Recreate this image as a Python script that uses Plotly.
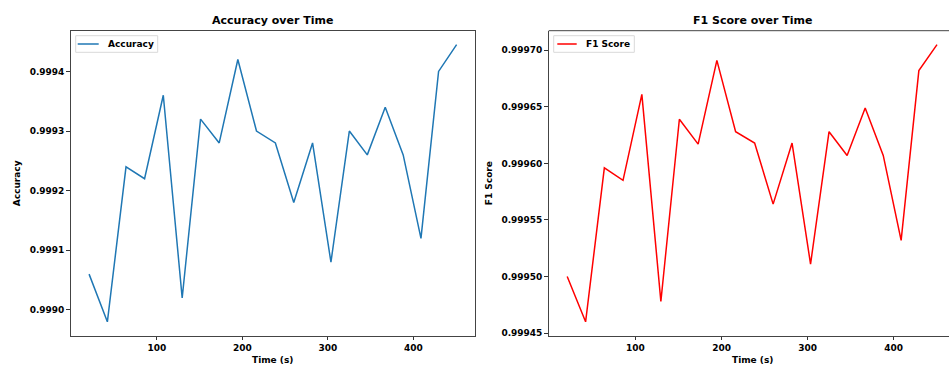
import plotly.graph_objects as go

time_s = [20.6, 42.0, 63.8, 85.5, 107.4, 129.5, 151.0, 172.8, 194.6, 216.4, 238.5,
          260.0, 282.0, 303.5, 325.0, 346.0, 367.0, 388.0, 408.8, 429.4, 450.5]
accuracy = [0.99906, 0.99898, 0.99924, 0.99922, 0.99936, 0.99902, 0.99932, 0.99928,
            0.99942, 0.99930, 0.99928, 0.99918, 0.99928, 0.99908, 0.99930, 0.99926,
            0.99934, 0.99926, 0.99912, 0.99940, 0.999445]
f1_score = [0.999500, 0.999460, 0.999596, 0.999585, 0.999661, 0.999478, 0.999639,
            0.999617, 0.999691, 0.999628, 0.999618, 0.999564, 0.999618, 0.999511,
            0.999628, 0.999607, 0.999649, 0.999607, 0.999532, 0.999682, 0.999705]
acc_ticks = [0.9990, 0.9991, 0.9992, 0.9993, 0.9994]
f1_ticks = [0.99945, 0.99950, 0.99955, 0.99960, 0.99965, 0.99970]
x_ticks = [100, 200, 300, 400]
series_names = ["Accuracy", "F1 Score"]
series_colors = ["#1f77b4", "red"]

W, H = 949, 365
FONT = "DejaVu Sans"

def px_x(p):
    return p / W

def px_y(p):
    return 1 - p / H

L1, R1 = 70.7, 475.0
L2, R2 = 548.7, 949.0
TOP, BOT = 30.7, 335.7

fig = go.Figure()
fig.add_trace(go.Scatter(x=time_s, y=accuracy, mode="lines", name=series_names[0],
                         line=dict(color=series_colors[0], width=1.5),
                         xaxis="x", yaxis="y", showlegend=False))
fig.add_trace(go.Scatter(x=time_s, y=f1_score, mode="lines", name=series_names[1],
                         line=dict(color=series_colors[1], width=1.5),
                         xaxis="x2", yaxis="y2", showlegend=False))

tickfont = dict(family=FONT, size=9, color="black", weight="bold")
axis_common = dict(showgrid=False, zeroline=False, ticks="outside", ticklen=3.5,
                   tickwidth=1, tickcolor="#333", tickfont=tickfont,
                   showline=True, linecolor="#444", linewidth=1, automargin=False)

# x range computed from matplotlib's 5% margin
xmin, xmax = min(time_s), max(time_s)
xpad = 0.05 * (xmax - xmin)
xr1 = [xmin - xpad, xmax + xpad]
# right axes is cut at the window edge
full_w = 955.5 - L2
xr2 = [xr1[0], xr1[0] + (xr1[1] - xr1[0]) * (R2 - L2) / full_w]

ay_min, ay_max = min(accuracy), max(accuracy)
aypad = 0.05 * (ay_max - ay_min)
fy_min, fy_max = min(f1_score), max(f1_score)
fypad = 0.05 * (fy_max - fy_min)

fig.update_layout(
    width=W, height=H,
    margin=dict(l=0, r=0, t=0, b=0),
    paper_bgcolor="white", plot_bgcolor="white",
    showlegend=False,
    xaxis=dict(domain=[px_x(L1), px_x(R1)], range=xr1, tickvals=x_ticks,
               mirror=True, anchor="y", **axis_common),
    yaxis=dict(domain=[px_y(BOT), px_y(TOP)], range=[ay_min - aypad, ay_max + aypad],
               tickvals=acc_ticks, tickformat=".4f", mirror=True, anchor="x",
               **axis_common),
    xaxis2=dict(domain=[px_x(L2), 1.0], range=xr2, tickvals=x_ticks,
                mirror=False, anchor="y2", **axis_common),
    yaxis2=dict(domain=[px_y(BOT), px_y(TOP)], range=[fy_min - fypad, fy_max + fypad],
                tickvals=f1_ticks, tickformat=".5f", mirror=False, anchor="x2",
                **axis_common),
)

# top border of the right axes (right border lies beyond the window)
fig.add_shape(type="line", xref="x2 domain", yref="y2 domain", x0=0, x1=1.02, y0=1, y1=1,
              line=dict(color="#444", width=1))

# legends (matplotlib style, upper left)
legend_boxes = [(75.7, 157.7), (553.7, 634.3)]
legend_lines = [(77.7, 98.7), (557.3, 576.7)]
legend_text_x = [105.7, 584.3]
LT, LB = 35.7, 52.3
LY = (LT + LB) / 2
for i in range(2):
    bx0, bx1 = legend_boxes[i]
    fig.add_shape(type="rect", xref="paper", yref="paper",
                  x0=px_x(bx0), x1=px_x(bx1), y0=px_y(LB), y1=px_y(LT),
                  line=dict(color="#d9d9d9", width=1), fillcolor="rgba(255,255,255,0.8)")
    lx0, lx1 = legend_lines[i]
    fig.add_shape(type="line", xref="paper", yref="paper",
                  x0=px_x(lx0), x1=px_x(lx1), y0=px_y(LY), y1=px_y(LY),
                  line=dict(color=series_colors[i], width=1.5))
    fig.add_annotation(xref="paper", yref="paper", showarrow=False,
                       x=px_x(legend_text_x[i]), y=px_y(LY), xanchor="left",
                       yanchor="middle", text=series_names[i],
                       font=dict(family=FONT, size=9, color="black", weight="bold"))

title_font = dict(family=FONT, size=11, color="black", weight="bold")
label_font = dict(family=FONT, size=9, color="black", weight="bold")
ann = [
    dict(text="Accuracy over Time", x=px_x((L1 + R1) / 2), y=px_y(20.5), font=title_font),
    dict(text="F1 Score over Time", x=px_x((L2 + 955.5) / 2), y=px_y(20.5), font=title_font),
    dict(text="Time (s)", x=px_x((L1 + R1) / 2), y=px_y(359.5), font=label_font),
    dict(text="Time (s)", x=px_x((L2 + 955.5) / 2), y=px_y(359.5), font=label_font),
    dict(text="Accuracy", x=px_x(17), y=px_y((TOP + BOT) / 2), font=label_font,
         textangle=-90),
    dict(text="F1 Score", x=px_x(489), y=px_y((TOP + BOT) / 2), font=label_font,
         textangle=-90),
]
for a in ann:
    fig.add_annotation(xref="paper", yref="paper", showarrow=False,
                       xanchor="center", yanchor="middle", **a)

fig.write_html("out.html")
